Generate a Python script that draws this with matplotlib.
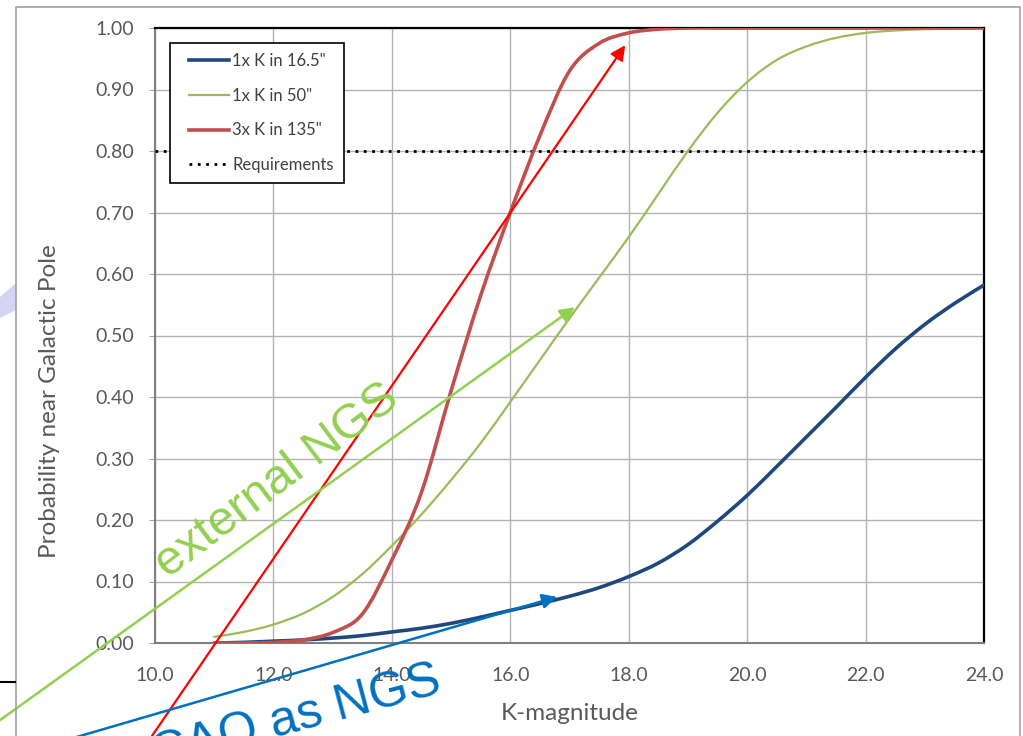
import numpy as np
import matplotlib
matplotlib.use("Agg")
import matplotlib.pyplot as plt
from matplotlib.lines import Line2D
from matplotlib.patches import Polygon, PathPatch
from matplotlib.path import Path
from matplotlib.legend_handler import HandlerLine2D

# K-magnitude grid of the curves
k_mag = [11.0, 11.5, 12.0, 12.5, 13.0, 13.5, 14.0, 14.5, 15.0, 15.5, 16.0, 16.5, 17.0,
         17.5, 18.0, 18.5, 19.0, 19.5, 20.0, 20.5, 21.0, 21.5, 22.0, 22.5, 23.0, 23.5, 24.0]

p_16 = [0.000, 0.001, 0.003, 0.005, 0.008, 0.012, 0.018, 0.024, 0.032, 0.042, 0.053, 0.064, 0.076,
        0.090, 0.108, 0.130, 0.160, 0.198, 0.240, 0.287, 0.335, 0.383, 0.432, 0.478, 0.518, 0.552, 0.582]

p_50 = [0.010, 0.018, 0.030, 0.048, 0.075, 0.112, 0.158, 0.209, 0.265, 0.325, 0.392, 0.460, 0.528,
        0.594, 0.660, 0.730, 0.800, 0.862, 0.912, 0.948, 0.970, 0.984, 0.992, 0.996, 0.998, 0.999, 1.000]

p_135 = [0.000, 0.000, 0.001, 0.005, 0.017, 0.047, 0.135, 0.245, 0.410, 0.565, 0.700, 0.825, 0.930,
         0.975, 0.992, 0.998, 1.000, 1.000, 1.000, 1.000, 1.000, 1.000, 1.000, 1.000, 1.000, 1.000, 1.000]

labels = ['1x K in 16.5"', '1x K in 50"', '3x K in 135"', "Requirements"]
requirement = 0.80

x_ticks = [10.0, 12.0, 14.0, 16.0, 18.0, 20.0, 22.0, 24.0]
y_ticks = [0.0, 0.1, 0.2, 0.3, 0.4, 0.5, 0.6, 0.7, 0.8, 0.9, 1.0]

# arrows drawn on the slide (tail, head) in data units
arrow_red = [(9.95, -0.151), (17.94, 0.972)]
arrow_green = [(7.2, -0.138), (17.09, 0.546)]
arrow_blue = [(8.6, -0.155), (16.79, 0.075)]

W, H = 1023, 736
fig = plt.figure(figsize=(W / 100, H / 100), dpi=100)
ax = fig.add_axes([155 / W, 1 - 643 / H, (984 - 155) / W, (643 - 28) / H])

gray_txt = "#595959"
font = "Lato"


def smooth_line(ax, xs, ys, **kw):
    # excel style "smoothed line": bezier segments through every point
    x = np.asarray(xs, float)
    y = np.asarray(ys, float)
    n = len(x)
    verts = [(x[0], y[0])]
    codes = [Path.MOVETO]
    for i in range(n - 1):
        i0 = max(i - 1, 0)
        i3 = min(i + 2, n - 1)
        c1 = (x[i] + (x[i + 1] - x[i0]) / 6, y[i] + (y[i + 1] - y[i0]) / 6)
        c2 = (x[i + 1] - (x[i3] - x[i]) / 6, y[i + 1] - (y[i3] - y[i]) / 6)
        verts += [c1, c2, (x[i + 1], y[i + 1])]
        codes += [Path.CURVE4] * 3
    patch = PathPatch(Path(verts, codes), fill=False, capstyle="round", joinstyle="round", **kw)
    ax.add_patch(patch)
    return Line2D([], [], color=kw.get("edgecolor"), lw=kw.get("lw"))


h16 = smooth_line(ax, k_mag, p_16, edgecolor="#1f497d", lw=2.6, zorder=4)
h50 = smooth_line(ax, k_mag, p_50, edgecolor="#9bbb59", lw=1.6, zorder=4)
h135 = smooth_line(ax, k_mag, p_135, edgecolor="#c0504d", lw=2.6, zorder=4)
hreq = ax.axhline(requirement, color="black", lw=2.0, ls=(0, (1, 2)), zorder=3)

ax.set_xlim(10, 24)
ax.set_ylim(0, 1)
ax.set_xticks(x_ticks)
ax.set_yticks(y_ticks)
ax.set_xticklabels([f"{v:.1f}" for v in x_ticks], fontsize=14, color=gray_txt, family=font)
ax.set_yticklabels([f"{v:.2f}" for v in y_ticks], fontsize=14, color=gray_txt, family=font)
ax.tick_params(axis="x", length=0, pad=17)
ax.tick_params(axis="y", length=4, color="#a6a6a6", pad=11)
ax.grid(True, color="#b3b3b3", lw=1.0, zorder=0)
ax.set_axisbelow(True)

for side in ["left", "bottom"]:
    ax.spines[side].set_color("#7f7f7f")
    ax.spines[side].set_linewidth(1.5)
for side in ["top", "right"]:
    ax.spines[side].set_color("black")
    ax.spines[side].set_linewidth(1.6)

ax.set_xlabel("K-magnitude", fontsize=17.5, color=gray_txt, family=font, labelpad=14)
ax.set_ylabel("Probability near Galactic Pole", fontsize=17.5, color=gray_txt, family=font)
ax.yaxis.set_label_coords(-0.114, 0.393)


class ShortHandle(HandlerLine2D):
    # legend line only fills the right part of the handle box
    def get_xdata(self, legend, xdescent, ydescent, width, height, fontsize):
        xd = np.array([-xdescent + 0.19 * width, -xdescent + width])
        return xd, xd


leg = ax.legend([h16, h50, h135, hreq], labels,
                loc="upper left", bbox_to_anchor=(0.018, 0.9756), borderaxespad=0,
                prop={"family": font, "size": 12}, labelcolor="#404040",
                handlelength=2.95, handletextpad=0.2, labelspacing=1.12, borderpad=0.6,
                fancybox=False, framealpha=1, edgecolor="black",
                handler_map={Line2D: ShortHandle()})
leg.get_frame().set_linewidth(1.2)
leg.set_zorder(6)

# slide annotations
for (tail, head), col, lw in [(arrow_red, "#ff0000", 1.6), (arrow_green, "#92d050", 1.8),
                              (arrow_blue, "#0070c0", 1.8)]:
    ax.annotate("", xy=head, xytext=tail, annotation_clip=False, zorder=7,
                arrowprops=dict(arrowstyle="-|>", color=col, lw=lw, mutation_scale=22,
                                shrinkA=0, shrinkB=0))

ax.text(10.22, 0.104, "external NGS", color="#92d050", fontsize=35, family="Liberation Sans",
        rotation=37, rotation_mode="anchor", ha="left", va="baseline", clip_on=False, zorder=7)
ax.text(14.86, -0.080, "SCAO as NGS", color="#0070c0", fontsize=36, family="Liberation Sans",
        rotation=15, rotation_mode="anchor", ha="right", va="baseline", clip_on=False, zorder=7)


# slide frame bits around the chart
def fx(px):
    return px / W


def fy(py):
    return 1 - py / H


fig.add_artist(Line2D([fx(16), fx(16), fx(1020), fx(1020)], [fy(740), fy(6.5), fy(6.5), fy(740)],
                      color="#a0a0a0", lw=1.2))
fig.add_artist(Line2D([fx(0), fx(15)], [fy(682), fy(682)], color="black", lw=1.5))
fig.add_artist(Polygon([(fx(0), fy(297)), (fx(16), fy(283)), (fx(16), fy(310)), (fx(0), fy(318))],
                       closed=True, facecolor="#d4d4f4", edgecolor="none"))

fig.savefig("out.png", dpi=100, facecolor="white")
